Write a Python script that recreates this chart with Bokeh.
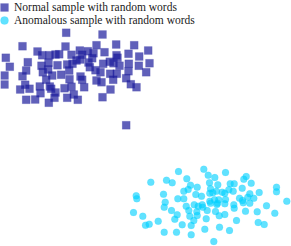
from bokeh.plotting import figure
from bokeh.models import Range1d, Legend, LegendItem
from bokeh.embed import file_html
from bokeh.resources import INLINE

# 2-D embedding coordinates
normal_x = [65.7, 102, 22, 65, 96, 115.7, 133.7, 37, 41.7, 49, 55, 58.7, 71, 79.3, 87.3, 81.7, 93, 104,
            116, 128, 147.7, 5.3, 91.7, 117, 138.7, 27.3, 48, 57, 66.7, 72, 76, 79.7, 88, 102.7, 109.3,
            113, 119, 128.3, 138.3, 149, 9.3, 41, 47.7, 89.3, 95, 100, 109.7, 116.3, 128, 145.7, 25.7,
            42.3, 51.7, 60.7, 68.7, 80, 81.7, 4, 22, 45.7, 69, 96, 101, 112.7, 125.7, 4, 24.7, 39.3,
            49.3, 64, 71, 83.7, 130.3, 136, 19.7, 29, 50.7, 110, 40, 55, 73.3, 54, 66.7, 77.3, 102,
            25.7, 34.7, 48.3, 125.7]
normal_y = [32.3, 34, 45.7, 46, 44.7, 44, 44.7, 51, 54.7, 54.7, 54, 53.7, 54.3, 50, 50.7, 54.3, 52.7, 51.7,
            54.7, 53.3, 50, 57.3, 57.7, 57.3, 56, 61.7, 62.3, 64.7, 64, 63.3, 60, 59, 62, 63.3, 61.3,
            62.7, 65.3, 63.3, 65.3, 62.7, 66.3, 65.3, 69, 66.7, 69.7, 71.7, 73.3, 73.3, 70.7, 71.7, 70,
            71.7, 75, 74.3, 70, 76, 79.3, 75, 75.7, 79.3, 78.7, 80, 81.7, 79.3, 77.7, 84, 84.3, 86,
            86, 87.7, 86.3, 86.7, 83.7, 86.7, 89, 88.3, 88.3, 89, 92.7, 92, 94, 97.3, 97.3, 99.3, 96.7,
            99.3, 99, 102.3, 124.7]

anomalous_x = [203.3, 178, 207.7, 225, 245.7, 243.3, 214.3, 166, 171.7, 186.3, 150.3, 209, 217.3, 229.7,
               233.7, 250.7, 190, 196.7, 183.3, 187.7, 210, 216, 221.7, 228.3, 232.7, 241.7, 276, 276,
               163, 195.3, 201, 209.3, 212.3, 224.3, 249.3, 258.7, 135.7, 136.3, 177.3, 183.3, 214,
               218.3, 225, 239, 242, 247.3, 253.3, 286.3, 164.7, 209.3, 210, 217, 193.7, 201.7, 216.3,
               224.3, 249.3, 163.7, 185.7, 197.7, 202.3, 233.3, 233.7, 242.7, 266, 171, 188.3, 196.3,
               206.7, 215, 245, 256.7, 274.3, 133, 176.7, 189.3, 196.7, 218.7, 224.3, 142.3, 174.3,
               193.3, 205.7, 236, 157.7, 257.7, 263.7, 145, 148.7, 181.7, 190.7, 219, 204.3, 229,
               163.7, 176, 190.7, 213.3]
anomalous_y = [168.7, 171, 174.7, 172, 176, 178.7, 177, 179.7, 182.3, 178.3, 181.7, 182.3, 184.3, 183.3,
               183.3, 182.7, 184.7, 186.7, 190.7, 189, 188.3, 190.7, 191.7, 189.3, 190.7, 187.7, 186.7,
               191.3, 193.7, 194, 195.7, 192.7, 192.3, 192.7, 193.3, 192, 195.3, 198.3, 198.3, 198.3,
               199.3, 199.3, 199, 197.7, 200, 196.7, 197.7, 200.7, 201.7, 200.7, 202.7, 202.7, 204.3,
               204.3, 204, 203.3, 202.7, 206.7, 205.7, 205.7, 206.7, 204.3, 207.7, 202.3, 205.3, 210,
               210, 211.3, 210, 211, 210.7, 211.3, 212.7, 212, 214.3, 215.7, 215, 215.3, 214, 215.7,
               218.7, 220, 218.3, 220, 220.7, 222, 224, 224.7, 223.7, 224.3, 225, 226.7, 228.7, 230,
               231.7, 231.7, 234.3, 241]

labels = ["Normal sample with random words", "Anomalous sample with random words"]

W, H = 291, 246
p = figure(width=W, height=H, output_backend="svg", toolbar_location=None,
           x_range=Range1d(0, 291), y_range=Range1d(246, 0),
           min_border=0, min_border_left=0, min_border_right=0,
           min_border_top=0, min_border_bottom=0)
p.xaxis.visible = False
p.yaxis.visible = False
p.grid.visible = False
p.outline_line_color = None
p.background_fill_color = "white"
p.border_fill_color = "white"

r1 = p.scatter(normal_x, normal_y, marker="square", size=8,
               fill_color="#1c1c9c", fill_alpha=0.7, line_color="#1c1c9c", line_alpha=0.2, line_width=0.5)
r2 = p.scatter(anomalous_x, anomalous_y, marker="circle", size=7,
               fill_color="#00d0ff", fill_alpha=0.62, line_color="#00d0ff", line_alpha=0.2, line_width=0.5)

common = dict(glyph_width=20, glyph_height=20, spacing=0, padding=0, margin=0,
              label_standoff=-1, label_height=12,
              label_text_font="Liberation Serif", label_text_font_size="11.5px",
              label_text_color="#1a1a1a",
              border_line_color=None, background_fill_alpha=0)
leg1 = Legend(items=[LegendItem(label=labels[0], renderers=[r1])], location=(-6, H - 17), **common)
leg2 = Legend(items=[LegendItem(label=labels[1], renderers=[r2])], location=(-6, H - 30), **common)
p.add_layout(leg1)
p.add_layout(leg2)

open("out.html", "w").write(file_html(p, INLINE))
